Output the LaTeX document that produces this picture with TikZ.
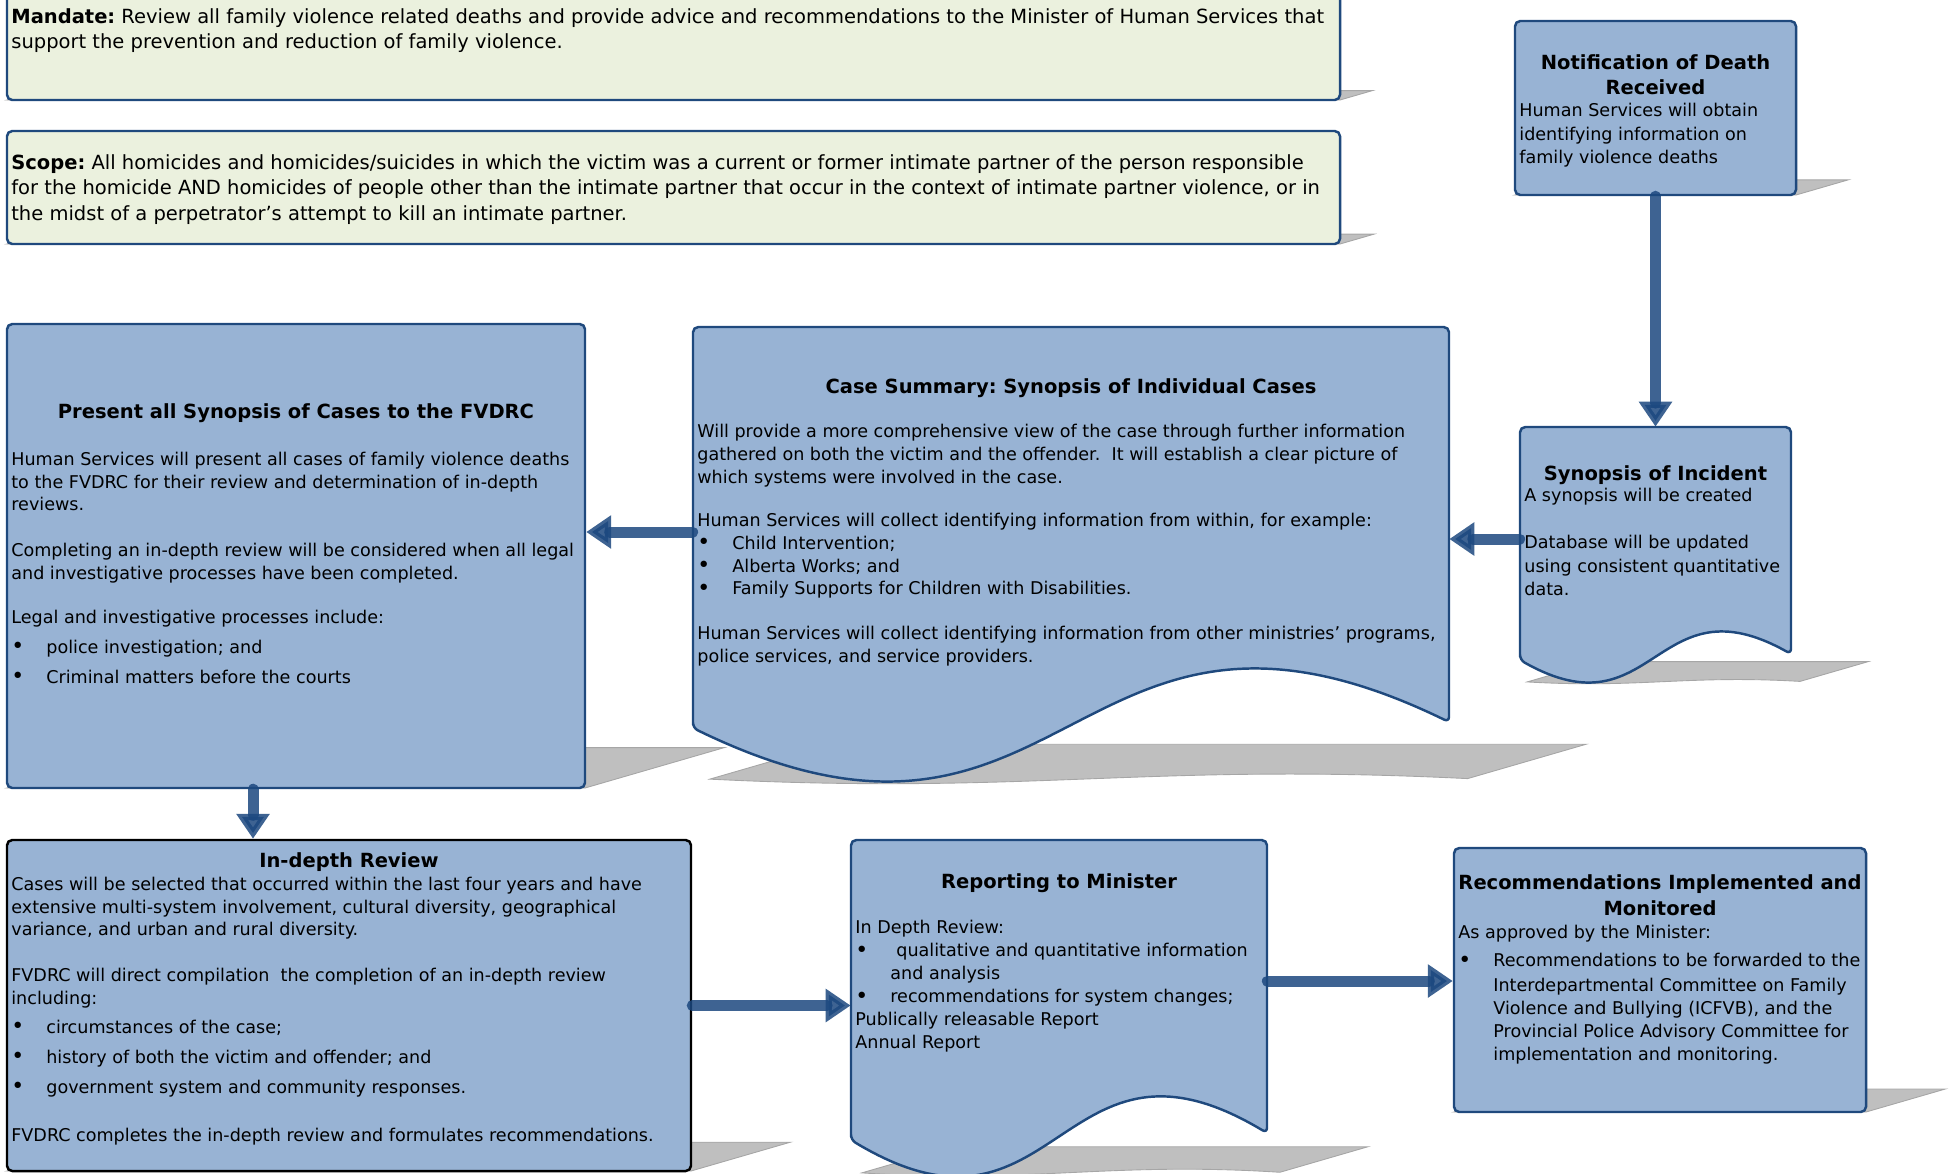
\documentclass[tikz,border=0pt]{standalone}
\usepackage{fontspec}
\setmainfont{DejaVu Sans}
\usetikzlibrary{arrows.meta,positioning,calc}
\frenchspacing

\definecolor{boxfill}{RGB}{152,179,212}
\definecolor{boxline}{RGB}{31,73,125}
\definecolor{notefill}{RGB}{235,241,222}
\definecolor{shadowgray}{RGB}{191,191,191}
\definecolor{shadowedge}{RGB}{166,166,166}
\definecolor{arrowblue}{RGB}{28,72,127}

\newcommand{\itm}{\makebox[7mm][l]{\raisebox{-0.3pt}{\fontsize{12.5}{12.5}\selectfont\textbullet}}}
\newcommand{\cont}{\hspace*{7mm}}

\tikzset{
  bluebox/.style={draw=boxline, fill=boxfill, line width=1.4pt, rounded corners=3pt, inner sep=0pt},
  notebox/.style={bluebox, fill=notefill},
  docframe/.style={inner sep=0pt},
  docline/.style={draw=boxline, fill=boxfill, line width=1.4pt, rounded corners=3pt},
  shadowfill/.style={fill=shadowgray, draw=shadowedge, line width=0.5pt},
  floorshadow/.style={cm={1,0,0.3,0.087,(0.3*#1,-0.913*#1)}},
  flowarrow/.style={draw=arrowblue, line width=2.2mm, line cap=round, opacity=0.85,
    -{Triangle[length=5mm,width=6.4mm]}},
  ttl/.style={font=\fontsize{11.1}{14.2}\selectfont\bfseries, align=center, inner sep=0pt},
  txt/.style={font=\fontsize{10}{12.8}\selectfont, align=left, inner sep=0pt},
  bigtxt/.style={font=\fontsize{11.1}{14.6}\selectfont, align=left, inner sep=0pt},
}

\begin{document}
\begin{tikzpicture}[x=0.2mm, y=0.2mm]
  \useasboundingbox (0,0) rectangle (1952,-1173);

  % --- Shadows on the floor ---
  \filldraw[shadowfill, floorshadow=100] (7,-100) rectangle (1340,8);
  \filldraw[shadowfill, floorshadow=244] (7,-244) rectangle (1340,-131);
  \filldraw[shadowfill, floorshadow=195] (1515,-195) rectangle (1796,-21);
  \filldraw[shadowfill, floorshadow=788] (7,-788) rectangle (585,-324);
  \filldraw[shadowfill, floorshadow=1171] (7,-1171) rectangle (691,-840);
  \filldraw[shadowfill, floorshadow=1112] (1454,-1112) rectangle (1866,-848);
  \filldraw[shadowfill, floorshadow=684] (1520,-660) -- (1520,-427) -- (1791,-427) -- (1791,-654)
    .. controls (1655,-578) and (1655,-736) .. (1520,-660) -- cycle;
  \filldraw[shadowfill, floorshadow=784] (693,-728) -- (693,-327) -- (1449,-327) -- (1449,-722)
    .. controls (1071,-538) and (1071,-912) .. (693,-728) -- cycle;
  \filldraw[shadowfill, floorshadow=1176] (851,-1140) -- (851,-840) -- (1267,-840) -- (1267,-1133)
    .. controls (1059,-1008) and (1059,-1265) .. (851,-1140) -- cycle;

  % --- Top notes ---
  \node[notebox, minimum width=266.6mm, minimum height=21.6mm] (mandate) at (673.5,-46) {};
  \node[notebox, minimum width=266.6mm, minimum height=22.6mm] (scope) at (673.5,-187.5) {};

  % --- Boxes ---
  \node[bluebox, minimum width=56.2mm, minimum height=34.8mm] (notify) at (1655.5,-108) {};
  \node[bluebox, minimum width=115.6mm, minimum height=92.8mm] (present) at (296,-556) {};
  \node[bluebox, draw=black, minimum width=136.8mm, minimum height=66.2mm] (indepth) at (349,-1005.5) {};
  \node[bluebox, minimum width=82.4mm, minimum height=52.8mm] (recom) at (1660,-980) {};

  % Document shapes (wavy bottom)
  \draw[docline] (1520,-660) -- (1520,-427) -- (1791,-427) -- (1791,-654)
    .. controls (1655,-578) and (1655,-736) .. (1520,-660) -- cycle;
  \node[docframe, minimum width=54.2mm, minimum height=44.8mm] (synop) at (1655.5,-539) {};
  \draw[docline] (693,-728) -- (693,-327) -- (1449,-327) -- (1449,-722)
    .. controls (1071,-538) and (1071,-912) .. (693,-728) -- cycle;
  \node[docframe, minimum width=151.2mm, minimum height=82mm] (casesum) at (1071,-532) {};
  \draw[docline] (851,-1140) -- (851,-840) -- (1267,-840) -- (1267,-1133)
    .. controls (1059,-1008) and (1059,-1265) .. (851,-1140) -- cycle;
  \node[docframe, minimum width=83.2mm, minimum height=56.4mm] (report) at (1059,-981) {};

  % --- Flow arrows ---
  \draw[flowarrow] (notify.south) -- (synop.north);
  \draw[flowarrow] (synop.west) -- (synop.west -| casesum.east);
  \draw[flowarrow] (casesum.west) -- (casesum.west -| present.east);
  \draw[flowarrow] ([xshift=-8.6mm]present.south) -- ([xshift=-8.6mm]present.south |- indepth.north);
  \draw[flowarrow] (indepth.east) -- (indepth.east -| report.west);
  \draw[flowarrow] (report.east) -- (report.east -| recom.west);

  % --- Texts ---
  \node[bigtxt, anchor=north west] (mandatetxt) at (11,-8) {%
    \textbf{Mandate:} Review all family violence related deaths and provide advice and recommendations to the Minister of Human Services that\\
    support the prevention and reduction of family violence.};
  \node[bigtxt, anchor=north west] (scopetxt) at (11,-154) {%
    \textbf{Scope:} All homicides and homicides/suicides in which the victim was a current or former intimate partner of the person responsible\\
    for the homicide AND homicides of people other than the intimate partner that occur in the context of intimate partner violence, or in\\
    the midst of a perpetrator’s attempt to kill an intimate partner.};

  \node[ttl, anchor=north] (notifyttl) at (1655.5,-54) {Notification of Death\\Received};
  \node[txt, anchor=north west, font=\fontsize{10}{13.4}\selectfont] (notifytxt) at (1519,-103) {%
    Human Services will obtain\\
    identifying information on\\
    family violence deaths};

  \node[ttl, anchor=north] (synopttl) at (1655.5,-465) {Synopsis of Incident};
  \node[txt, anchor=north west, font=\fontsize{10}{13.4}\selectfont] (synoptxt) at (1524,-488) {%
    A synopsis will be created\\[13.4pt]
    Database will be updated\\
    using consistent quantitative\\
    data.};

  \node[ttl, anchor=north] (casettl) at (1071,-378) {Case Summary: Synopsis of Individual Cases};
  \node[txt, anchor=north west, font=\fontsize{10}{13}\selectfont] (casetxt) at (697,-424) {%
    Will provide a more comprehensive view of the case through further information\\
    gathered on both the victim and the offender.\ \ It will establish a clear picture of\\
    which systems were involved in the case.\\[11.5pt]
    Human Services will collect identifying information from within, for example:\\
    \itm Child Intervention;\\
    \itm Alberta Works; and\\
    \itm Family Supports for Children with Disabilities.\\[12.6pt]
    Human Services will collect identifying information from other ministries’ programs,\\
    police services, and service providers.};

  \node[ttl, anchor=north] (presentttl) at (296,-403) {Present all Synopsis of Cases to the FVDRC};
  \node[txt, anchor=north west] (presenttxt) at (11,-452) {%
    Human Services will present all cases of family violence deaths\\
    to the FVDRC for their review and determination of in-depth\\
    reviews.\\[13.4pt]
    Completing an in-depth review will be considered when all legal\\
    and investigative processes have been completed.\\[12.2pt]
    Legal and investigative processes include:\\[4.3pt]
    \itm police investigation; and\\[4.3pt]
    \itm Criminal matters before the courts};

  \node[ttl, anchor=north] (indepthttl) at (349,-852) {In-depth Review};
  \node[txt, anchor=north west] (indepthtxt) at (11,-877) {%
    Cases will be selected that occurred within the last four years and have\\
    extensive multi-system involvement, cultural diversity, geographical\\
    variance, and urban and rural diversity.\\[13.4pt]
    FVDRC will direct compilation\ \ the completion of an in-depth review\\
    including:\\[3.7pt]
    \itm circumstances of the case;\\[4.3pt]
    \itm history of both the victim and offender; and\\[4.3pt]
    \itm government system and community responses.\\[14.5pt]
    FVDRC completes the in-depth review and formulates recommendations.};

  \node[ttl, anchor=north] (reportttl) at (1059,-873) {Reporting to Minister};
  \node[txt, anchor=north west, font=\fontsize{10}{13.1}\selectfont] (reporttxt) at (855,-920) {%
    In Depth Review:\\
    \itm\hspace{1.2mm}qualitative and quantitative information\\
    \cont and analysis\\
    \itm recommendations for system changes;\\
    Publically releasable Report\\
    Annual Report};

  \node[ttl, anchor=north, font=\fontsize{11.1}{14.8}\selectfont\bfseries] (recomttl) at (1660,-874)
    {Recommendations Implemented and\\Monitored};
  \node[txt, anchor=north west, font=\fontsize{10}{13.1}\selectfont] (recomtxt) at (1458,-925) {%
    As approved by the Minister:\\[2.8pt]
    \itm Recommendations to be forwarded to the\\[1pt]
    \cont Interdepartmental Committee on Family\\
    \cont Violence and Bullying (ICFVB), and the\\
    \cont Provincial Police Advisory Committee for\\
    \cont implementation and monitoring.};
\end{tikzpicture}
\end{document}
